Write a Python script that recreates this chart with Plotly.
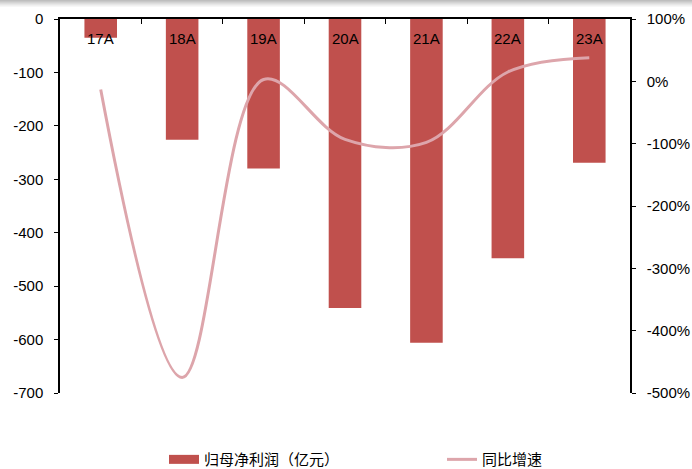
import plotly.graph_objects as go

categories = ["17A", "18A", "19A", "20A", "21A", "22A", "23A"]
net_profit = [-35, -226, -280, -541, -606, -448, -269]
yoy_growth = [-0.13, -4.75, 0.03, -0.93, -0.98, 0.15, 0.38]

left_ticks = [0, -100, -200, -300, -400, -500, -600, -700]
left_ticktext = ["0", "-100", "-200", "-300", "-400", "-500", "-600", "-700"]
right_ticks = [1, 0, -1, -2, -3, -4, -5]
right_ticktext = ["100%", "0%", "-100%", "-200%", "-300%", "-400%", "-500%"]

bar_name = "归母净利润（亿元）"
line_name = "同比增速"

BAR_COLOR = "#C0504D"
LINE_COLOR = "#DDA5AB"

fig = go.Figure()
fig.add_trace(go.Bar(
    x=categories, y=net_profit, name=bar_name, showlegend=False,
    marker=dict(color=BAR_COLOR, line=dict(width=0)),
    width=0.4, yaxis="y",
))
fig.add_trace(go.Scatter(
    x=categories, y=yoy_growth, name=line_name, mode="lines", showlegend=False,
    line=dict(color=LINE_COLOR, width=3, shape="spline", smoothing=1.0),
    yaxis="y2",
))
# legend-only entries
fig.add_trace(go.Scatter(
    x=[None], y=[None], name=bar_name, mode="lines",
    line=dict(color=BAR_COLOR, width=9), legend="legend",
))
fig.add_trace(go.Scatter(
    x=[None], y=[None], name=line_name, mode="lines",
    line=dict(color=LINE_COLOR, width=3), legend="legend2",
))

# category labels just below the top axis line
for c in categories:
    fig.add_annotation(
        x=c, y=1, xref="x", yref="paper", text=c, showarrow=False,
        yanchor="top", yshift=-9,
        font=dict(family="Liberation Sans, Arial, sans-serif", size=15, color="#000000"),
    )

# grey shading strip at the very top of the image
H = 374.0
for i, col in enumerate(["#BEBEBE", "#C8C8C8", "#D3D3D3", "#DDDDDD", "#E7E7E7", "#F0F0F0", "#F7F7F7"]):
    fig.add_shape(
        type="rect", xref="paper", yref="paper",
        x0=-60 / 570, x1=1 + 62 / 570,
        y0=1 + (19 - i - 1) / H, y1=1 + (19 - i) / H,
        fillcolor=col, line=dict(width=0), layer="above",
    )

tick_font = dict(family="Liberation Sans, Arial, sans-serif", size=15, color="#000000")
legend_font = dict(family="Noto Sans CJK SC", size=15, color="#000000")

fig.update_layout(
    width=692, height=469,
    margin=dict(l=60, r=62, t=19, b=76, autoexpand=False),
    paper_bgcolor="white", plot_bgcolor="white",
    showlegend=True,
    legend=dict(
        orientation="h", x=(164 - 60) / 570, xanchor="left", y=-0.134, yanchor="top",
        font=legend_font, bgcolor="rgba(0,0,0,0)",
    ),
    legend2=dict(
        orientation="h", x=(442 - 60) / 570, xanchor="left", y=-0.134, yanchor="top",
        font=legend_font, bgcolor="rgba(0,0,0,0)",
    ),
    xaxis=dict(
        type="category", side="top",
        showline=True, linecolor="#000000", linewidth=1.5,
        ticks="inside", ticklen=5, tickcolor="#000000", tickson="boundaries",
        showticklabels=False, showgrid=False, zeroline=False,
        automargin=False,
    ),
    yaxis=dict(
        range=[-700, 0], tickvals=left_ticks, ticktext=left_ticktext,
        showline=True, linecolor="#000000", linewidth=1.5,
        ticks="outside", ticklen=4, tickcolor="#000000", ticklabelstandoff=8,
        tickfont=tick_font, showgrid=False, zeroline=False, automargin=False,
    ),
    yaxis2=dict(
        range=[-5, 1], tickvals=right_ticks, ticktext=right_ticktext,
        overlaying="y", side="right",
        showline=True, linecolor="#000000", linewidth=1.5,
        ticks="outside", ticklen=4, tickcolor="#000000", ticklabelstandoff=8,
        tickfont=tick_font, showgrid=False, zeroline=False, automargin=False,
    ),
)

fig.write_html(
    "out.html",
    config={"displayModeBar": False},
    post_script="document.body.style.margin='0';document.body.style.overflow='hidden';",
)
